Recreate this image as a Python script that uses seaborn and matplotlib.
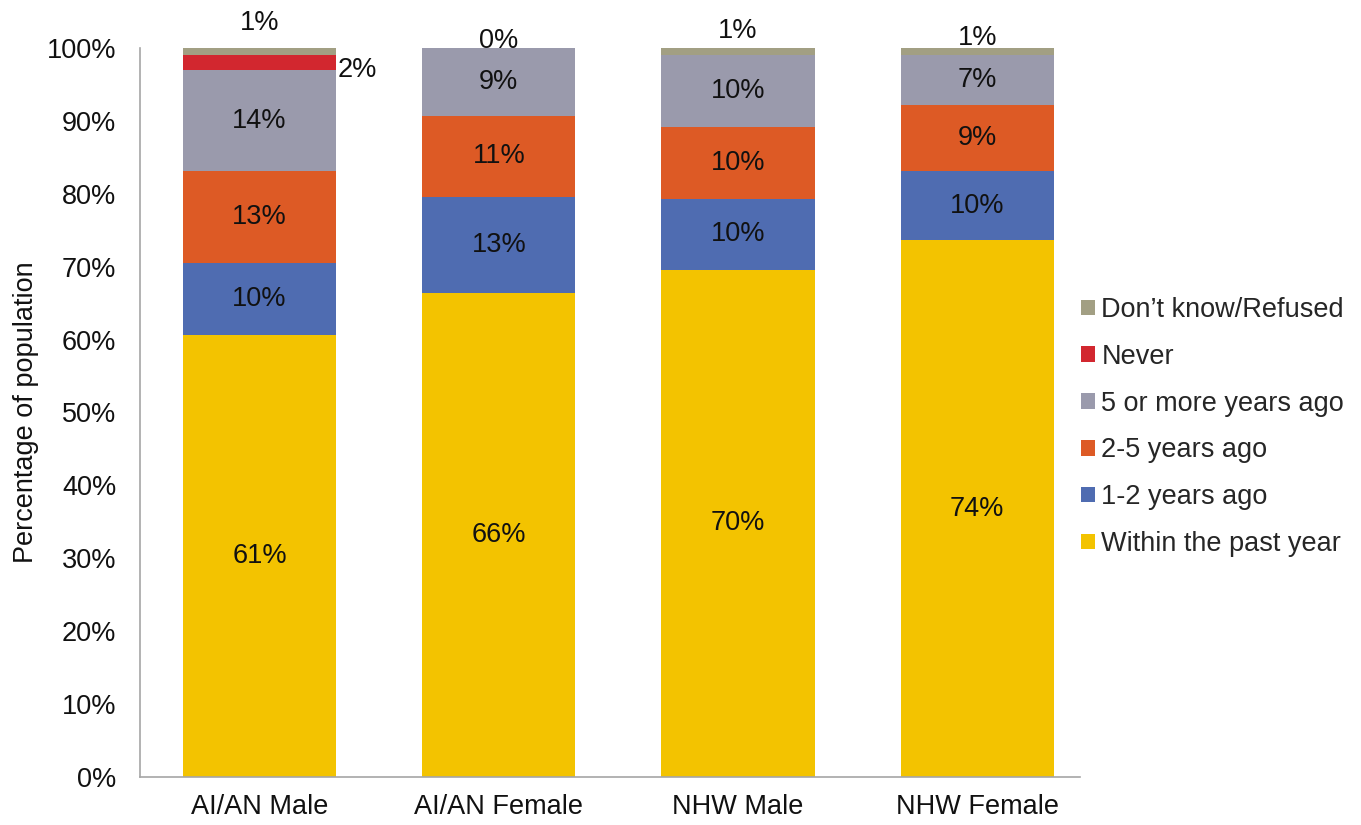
import matplotlib
matplotlib.use("Agg")
import matplotlib.pyplot as plt
import seaborn as sns
import numpy as np

categories = ["AI/AN Male", "AI/AN Female", "NHW Male", "NHW Female"]
series_names = ["Within the past year", "1-2 years ago", "2-5 years ago",
                "5 or more years ago", "Never", "Don\u2019t know/Refused"]
within_past_year = [60.6, 66.4, 69.6, 73.6]
one_two_years = [9.9, 13.2, 9.7, 9.5]
two_five_years = [12.6, 11.1, 9.8, 9.1]
five_plus_years = [13.9, 9.3, 9.9, 6.8]
never = [2.0, 0.0, 0.0, 0.0]
dont_know = [1.0, 0.0, 1.0, 1.0]
yticks = list(range(0, 101, 10))

colors = ["#F3C300", "#4F6CB1", "#DD5A25", "#9A9AAC", "#D2272F", "#A29F83"]
series = [within_past_year, one_two_years, two_five_years, five_plus_years, never, dont_know]

sns.set_theme(style="white")
plt.rcParams["font.family"] = ["Liberation Sans", "DejaVu Sans"]
FS = 19.5

fig, ax = plt.subplots(figsize=(13.61, 8.25), dpi=100)
fig.subplots_adjust(left=140/1361, right=1080/1361, bottom=1-777/825, top=1-48/825)

bottom = np.zeros(len(categories))
width = 0.64
for name, vals, col in zip(series_names, series, colors):
    vals = np.array(vals, dtype=float)
    sns.barplot(x=categories, y=vals, bottom=bottom, color=col, saturation=1,
                width=width, errorbar=None, label=name, ax=ax, linewidth=0)
    for i, v in enumerate(vals):
        if name in ("Within the past year", "1-2 years ago", "2-5 years ago", "5 or more years ago"):
            ax.text(i, bottom[i] + v / 2, f"{round(v):.0f}%", ha="center", va="center",
                    fontsize=FS, color="#111111")
        elif name == "Never" and v > 0:
            ax.annotate(f"{round(v):.0f}%", (i + width / 2, bottom[i] + v / 2),
                        xytext=(1, -5), textcoords="offset points",
                        ha="left", va="center", fontsize=FS, color="#111111")
    bottom = bottom + vals

# Don't know labels above bars
dk_offsets = [18, 5, 12, 7]
for i, v in enumerate(dont_know):
    ax.annotate(f"{round(v):.0f}%", (i, bottom[i]), xytext=(0, dk_offsets[i]),
                textcoords="offset points", ha="center", va="center",
                fontsize=FS, color="#111111")

ax.set_xlim(-0.5, 3.43)
ax.set_ylim(0, 100)
ax.set_yticks(yticks)
ax.set_yticklabels([f"{t}%" for t in yticks])
ax.tick_params(axis="y", length=0, pad=17, labelsize=FS, labelcolor="#111111")
ax.tick_params(axis="x", length=0, pad=12, labelsize=FS, labelcolor="#111111")
ax.set_ylabel("Percentage of population", fontsize=FS, color="#111111", labelpad=6)
ax.set_xlabel("")
for s in ["top", "right"]:
    ax.spines[s].set_visible(False)
for s in ["left", "bottom"]:
    ax.spines[s].set_color("#A6A6A6")
    ax.spines[s].set_linewidth(1.2)

handles, labels = ax.get_legend_handles_labels()
if ax.get_legend() is not None:
    ax.get_legend().remove()
fig.legend(handles[::-1], labels[::-1], loc="center left",
           bbox_to_anchor=(1081/1361, 1 - 427/825), frameon=False,
           fontsize=FS, handlelength=0.5, handleheight=0.5, handletextpad=0.25,
           labelspacing=0.77, borderpad=0, borderaxespad=0)

fig.savefig("out.png", dpi=100)
